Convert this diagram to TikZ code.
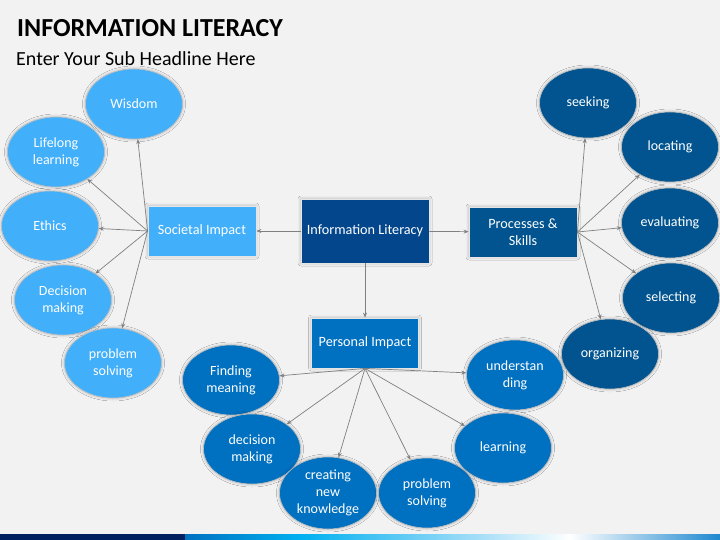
\documentclass[tikz,border=0pt]{standalone}
\usepackage{fontspec}
\setmainfont{Carlito}
\usetikzlibrary{shapes.geometric,shadows.blur,arrows.meta}
\definecolor{bgGray}{HTML}{F2F2F2}
\definecolor{skyBlue}{HTML}{42AFFA}
\definecolor{midBlue}{HTML}{0070C0}
\definecolor{deepBlue}{HTML}{03468C}
\definecolor{procBlue}{HTML}{01548F}
\definecolor{navyBar}{HTML}{002060}
\definecolor{cyanBar}{HTML}{00B0F0}
\definecolor{paleBar}{HTML}{A6DEF8}
\definecolor{endBar}{HTML}{1E88D0}
\begin{document}
\begin{tikzpicture}[x=1pt,y=-1pt,
 glow/.style={blur shadow={shadow xshift=0pt,shadow yshift=0pt,shadow blur radius=3pt,shadow opacity=30}},
 box/.style={rectangle,draw=white!80!gray,line width=0.8pt,text=white,align=center,minimum width=108pt,minimum height=50pt,inner sep=2pt,font=\fontsize{14.2}{17}\selectfont,glow},
 bubble/.style={ellipse,draw=gray!50,line width=0.6pt,text=white,align=center,minimum width=97pt,minimum height=70pt,inner sep=0pt,font=\fontsize{14}{17}\selectfont,glow},
 link/.style={draw=gray,line width=0.7pt,-{Stealth[length=5pt,width=4pt]}}]
 \fill[bgGray](0,0) rectangle (720,540);
 \useasboundingbox (0,0) rectangle (720,540);
 % title
 \node[anchor=base west,inner sep=0pt,font=\fontsize{26}{30}\selectfont\bfseries] (title) at (17,37) {INFORMATION LITERACY};
 \node[anchor=base west,inner sep=0pt,font=\fontsize{20}{24}\selectfont] (subtitle) at (16,66) {Enter Your Sub Headline Here};
 % boxes
 \node[box,fill=deepBlue,minimum width=128pt,minimum height=64pt] (info) at (365,231) {Information Literacy};
 \node[box,fill=skyBlue] (soc) at (202,231) {Societal Impact};
 \node[box,fill=procBlue] (proc) at (523,232) {Processes \&\\Skills};
 \node[box,fill=midBlue,minimum width=107pt] (pers) at (365,343) {Personal Impact};
 % societal
 \node[bubble,fill=skyBlue] (wisdom) at (134,104) {Wisdom};
 \node[bubble,fill=skyBlue] (lifelong) at (56,152) {Lifelong\\learning};
 \node[bubble,fill=skyBlue] (ethics) at (50,226) {Ethics};
 \node[bubble,fill=skyBlue] (decL) at (63,300) {Decision\\making};
 \node[bubble,fill=skyBlue] (probL) at (113,363) {problem\\solving};
 % processes
 \node[bubble,fill=procBlue] (seeking) at (588,103) {seeking};
 \node[bubble,fill=procBlue] (locating) at (670,147) {locating};
 \node[bubble,fill=procBlue] (evaluating) at (670,223) {evaluating};
 \node[bubble,fill=procBlue] (selecting) at (671,298) {selecting};
 \node[bubble,fill=procBlue] (organizing) at (610,354) {organizing};
 % personal
 \node[bubble,fill=midBlue] (finding) at (231,380) {Finding\\meaning};
 \node[bubble,fill=midBlue] (decP) at (252,449) {decision\\making};
 \node[bubble,fill=midBlue,minimum height=72pt] (creating) at (328,493) {creating\\new\\knowledge};
 \node[bubble,fill=midBlue] (probP) at (427,493) {problem\\solving};
 \node[bubble,fill=midBlue] (learning) at (503,448) {learning};
 \node[bubble,fill=midBlue] (underst) at (515,375) {understan\\ding};
 % connectors
 \draw[link] (info) -- (soc);
 \draw[link] (info) -- (proc);
 \draw[link] (info) -- (pers);
 \foreach \t in {wisdom,lifelong,ethics,decL,probL}
  \draw[link] (soc.west) -- (\t);
 \foreach \t in {seeking,locating,evaluating,selecting,organizing}
  \draw[link] (proc.east) -- (\t);
 \foreach \t in {finding,decP,creating,probP,learning,underst}
  \draw[link] (pers.south) -- (\t);
 % bottom bar
 \fill[navyBar](0,534) rectangle (185,540);
 \shade[left color=midBlue,right color=cyanBar](185,534) rectangle (300,540);
 \shade[left color=cyanBar,right color=paleBar](300,534) rectangle (480,540);
 \shade[left color=paleBar,right color=white](480,534) rectangle (570,540);
 \shade[left color=white,right color=endBar](570,534) rectangle (720,540);
\end{tikzpicture}
\end{document}
